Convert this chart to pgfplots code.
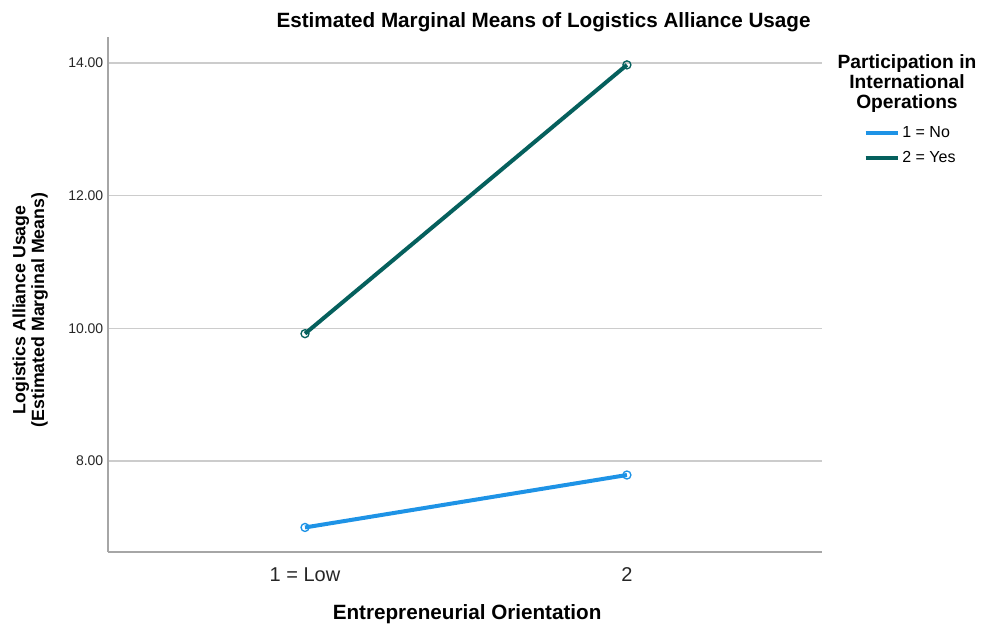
\documentclass[border=0pt]{standalone}
\usepackage{pgfplots}
\pgfplotsset{compat=1.18}
\usepackage{fontspec}
\setmainfont{Liberation Sans}
\definecolor{noblue}{HTML}{1E93E6}
\definecolor{yesteal}{HTML}{05605D}
\begin{document}
\begin{tikzpicture}
\path[use as bounding box] (-81pt,-55.5pt) rectangle (662.25pt,414pt);
\begin{axis}[
  scale only axis,
  width=535.5pt, height=386.25pt,
  xmin=-0.612, xmax=1.606,
  ymin=6.63, ymax=14.39,
  axis lines=left,
  axis line style={draw=gray!70, line width=1pt, -},
  xtick={0,1}, xticklabels={1 = Low, 2},
  ytick={8,10,12,14},
  major tick length=0pt,
  ymajorgrids, grid style={gray!40, line width=1.2pt},
  /pgf/number format/assume math mode=true,
  yticklabel style={/pgf/number format/fixed, /pgf/number format/fixed zerofill, /pgf/number format/precision=2,
    font=\fontsize{10.5}{12}\selectfont, text=black!85},
  xticklabel style={font=\fontsize{15}{18}\selectfont, text=black!85, yshift=-8pt},
  clip=false,
  legend style={at={(rel axis cs:1.058,0.831)}, anchor=north west, draw=none, fill=none,
    font=\fontsize{12}{14}\selectfont, row sep=4.5pt, inner sep=0pt},
  legend cell align=left,
  legend image code/.code={\draw[#1, line width=3pt, mark=none] (0,0) -- (24pt,0);},
]
\addplot[noblue, line width=3pt, mark=o, mark size=3pt, mark options={line width=1pt, fill=white}] coordinates {(0,7.00) (1,7.79)};
\addlegendentry{1 = No}
\addplot[yesteal, line width=3pt, mark=o, mark size=3pt, mark options={line width=1pt, fill=white}] coordinates {(0,9.92) (1,13.97)};
\addlegendentry{2 = Yes}
\node[anchor=center, font=\fontsize{15.5}{18}\selectfont\bfseries] at (rel axis cs:0.61,1.029) {Estimated Marginal Means of Logistics Alliance Usage};
\node[anchor=center, font=\fontsize{15.5}{18}\selectfont\bfseries] at (rel axis cs:0.503,-0.120) {Entrepreneurial Orientation};
\node[anchor=center, rotate=90, align=center, font=\fontsize{13.3}{14}\selectfont\bfseries] at (rel axis cs:-0.109,0.47) {Logistics Alliance Usage\\(Estimated Marginal Means)};
\node[anchor=north, align=center, font=\fontsize{14.4}{15}\selectfont\bfseries] at (rel axis cs:1.119,0.975) {Participation in\\International\\Operations};
\end{axis}
\end{tikzpicture}
\end{document}
